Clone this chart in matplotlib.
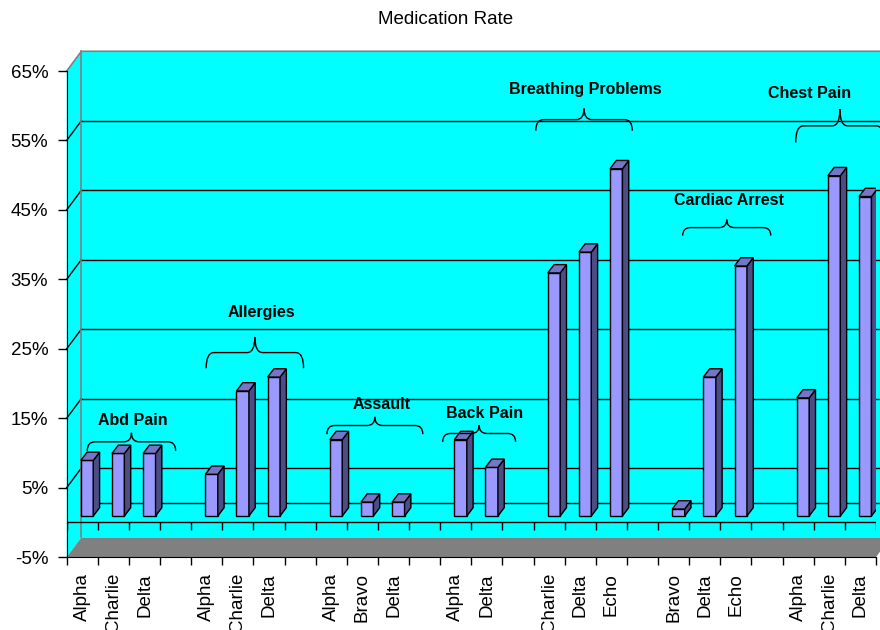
import numpy as np
import matplotlib.pyplot as plt
from matplotlib.patches import Polygon, PathPatch
from matplotlib.path import Path

plt.rcParams['font.family'] = ['Liberation Sans', 'DejaVu Sans']

# chart data
groups = ['Abd Pain', 'Allergies', 'Assault', 'Back Pain',
          'Breathing Problems', 'Cardiac Arrest', 'Chest Pain']
members = [['Alpha', 'Charlie', 'Delta'],
           ['Alpha', 'Charlie', 'Delta'],
           ['Alpha', 'Bravo', 'Delta'],
           ['Alpha', 'Delta'],
           ['Charlie', 'Delta', 'Echo'],
           ['Bravo', 'Delta', 'Echo'],
           ['Alpha', 'Charlie', 'Delta']]
rates = [[8, 9, 9], [6, 18, 20], [11, 2, 2], [11, 7],
         [35, 38, 50], [1, 20, 36], [17, 49, 46]]
yticks = [-5, 5, 15, 25, 35, 45, 55, 65]

# group label / brace placement (x in category slots, y in %)
brace_left = [0.16, 3.98, 7.86, 11.58, 14.57, 19.29, 22.92]
brace_right = [3.00, 7.11, 10.94, 13.92, 17.67, 22.12, 25.76]
brace_low = [10.3, 22.2, 12.7, 11.6, 56.4, 41.3, 54.7]
brace_high = [12.9, 26.7, 15.2, 14.0, 59.6, 43.6, 59.5]
label_x = [1.63, 5.76, 9.62, 12.94, 16.15, 20.79, 23.35]
label_y = [14.6, 30.2, 17.0, 15.7, 62.3, 46.3, 61.8]

# lay categories out in slots, one empty slot between groups
xpos, names, values = [], [], []
s = 0
for mem, vals in zip(members, rates):
    for n, v in zip(mem, vals):
        xpos.append(s)
        names.append(n)
        values.append(v)
        s += 1
    s += 1
nslots = s - 1

fig = plt.figure(figsize=(8.8, 6.3), dpi=100)
ax = fig.add_axes([66.7 / 880, (630 - 557.1) / 630,
                   (876 - 66.7) / 880, (557.1 - 71) / 630])
ax.set_xlim(-0.5, nslots - 0.5)
ax.set_ylim(-5, 65)
ax.patch.set_visible(False)

# pixel -> data offsets (for the fake 3d depth)
p = ax.transData.transform([(0, 0), (1, 1)])
kx, ky = p[1] - p[0]


def px(dx, dy):
    return dx / kx, dy / ky


ox, oy = px(14.7, 19.7)
xl, xr = -0.5, nslots - 0.5
cyan = '#00FFFF'
gray = '#808080'

# back wall, side wall, floor
ax.add_patch(Polygon([(xl + ox, -5 + oy), (xl + ox, 65 + oy), (xr + ox, 65 + oy), (xr + ox, -5 + oy)],
                     facecolor=cyan, edgecolor='none', zorder=0.5, clip_on=False))
ax.add_patch(Polygon([(xl, -5), (xl, 65), (xl + ox, 65 + oy), (xl + ox, -5 + oy)],
                     facecolor=cyan, edgecolor='none', zorder=0.5, clip_on=False))
ax.add_patch(Polygon([(xl, -5), (xr, -5), (xr + ox, -5 + oy), (xl + ox, -5 + oy)],
                     facecolor=gray, edgecolor='none', zorder=0.6, clip_on=False))

# gridlines on back wall + diagonals on side wall
for v in [0] + yticks[1:-1]:
    ax.plot([xl + ox, xr + ox], [v + oy, v + oy], color='black', lw=1, zorder=1, clip_on=False)
for v in yticks[1:-1]:
    ax.plot([xl, xl + ox], [v, v + oy], color='black', lw=1, zorder=1, clip_on=False)
ax.plot([xl, xl + ox, xr + ox], [65, 65 + oy, 65 + oy], color=gray, lw=1.2, zorder=1.1, clip_on=False)
ax.plot([xl + ox, xl + ox], [-5 + oy, 65 + oy], color=gray, lw=1.2, zorder=1.1, clip_on=False)

# category axis at 0%
bounds = np.arange(xl, xr + 0.01, 1)
ax.plot([xl, xr], [0, 0], color='black', lw=1, zorder=1.2)
ax.vlines(bounds, -7.6 / ky, 0, color='black', lw=1, zorder=1.2)

# bars
fx, fy = px(4.8, 6.4)
dx, dy = px(6.3, 8.3)
hw = 0.2
for x, v in zip(xpos, values):
    x0, x1 = x - hw + fx, x + hw + fx
    y0, y1 = fy, v + fy
    ax.add_patch(Polygon([(x0, y0), (x1, y0), (x1, y1), (x0, y1)],
                         facecolor='#9999FF', edgecolor='black', lw=1, zorder=3))
    ax.add_patch(Polygon([(x1, y0), (x1 + dx, y0 + dy), (x1 + dx, y1 + dy), (x1, y1)],
                         facecolor='#4D4D85', edgecolor='black', lw=1, zorder=3))
    ax.add_patch(Polygon([(x0, y1), (x1, y1), (x1 + dx, y1 + dy), (x0 + dx, y1 + dy)],
                         facecolor='#7676C8', edgecolor='black', lw=1, zorder=3))

# group braces and labels
r = 0.25
for g, a, b, lo, hi, tx, ty in zip(groups, brace_left, brace_right, brace_low,
                                   brace_high, label_x, label_y):
    c = (a + b) / 2
    m = (lo + hi) / 2
    verts = [(a, lo), (a, m), (a + r, m), (c - r, m), (c, m), (c, hi),
             (c, m), (c + r, m), (b - r, m), (b, m), (b, lo)]
    codes = [Path.MOVETO, Path.CURVE3, Path.CURVE3, Path.LINETO, Path.CURVE3, Path.CURVE3,
             Path.CURVE3, Path.CURVE3, Path.LINETO, Path.CURVE3, Path.CURVE3]
    ax.add_patch(PathPatch(Path(verts, codes), facecolor='none', edgecolor='black',
                           lw=1, zorder=4, clip_on=False))
    ax.text(tx, ty, g, ha='center', va='center', fontsize=11.5, fontweight='bold',
            zorder=5, clip_on=False)

# axes, ticks, labels
for sp in ['top', 'right']:
    ax.spines[sp].set_visible(False)
ax.spines['left'].set_zorder(2)
ax.spines['bottom'].set_zorder(2)
ax.set_xticks(bounds)
ax.set_xticks(xpos, names, minor=True, rotation=90)
ax.tick_params(axis='x', which='major', length=5.8, width=1, labelbottom=False)
ax.tick_params(axis='x', which='minor', length=0, pad=11.5, labelsize=13.5)
ax.set_yticks(yticks, [f'{v}%' for v in yticks])
ax.tick_params(axis='y', length=6.3, width=1, pad=7, labelsize=13.5)

fig.text(445.5 / 880, 1 - 19 / 630, 'Medication Rate', ha='center', va='center', fontsize=13.5)

fig.savefig('out.png', dpi=100)
